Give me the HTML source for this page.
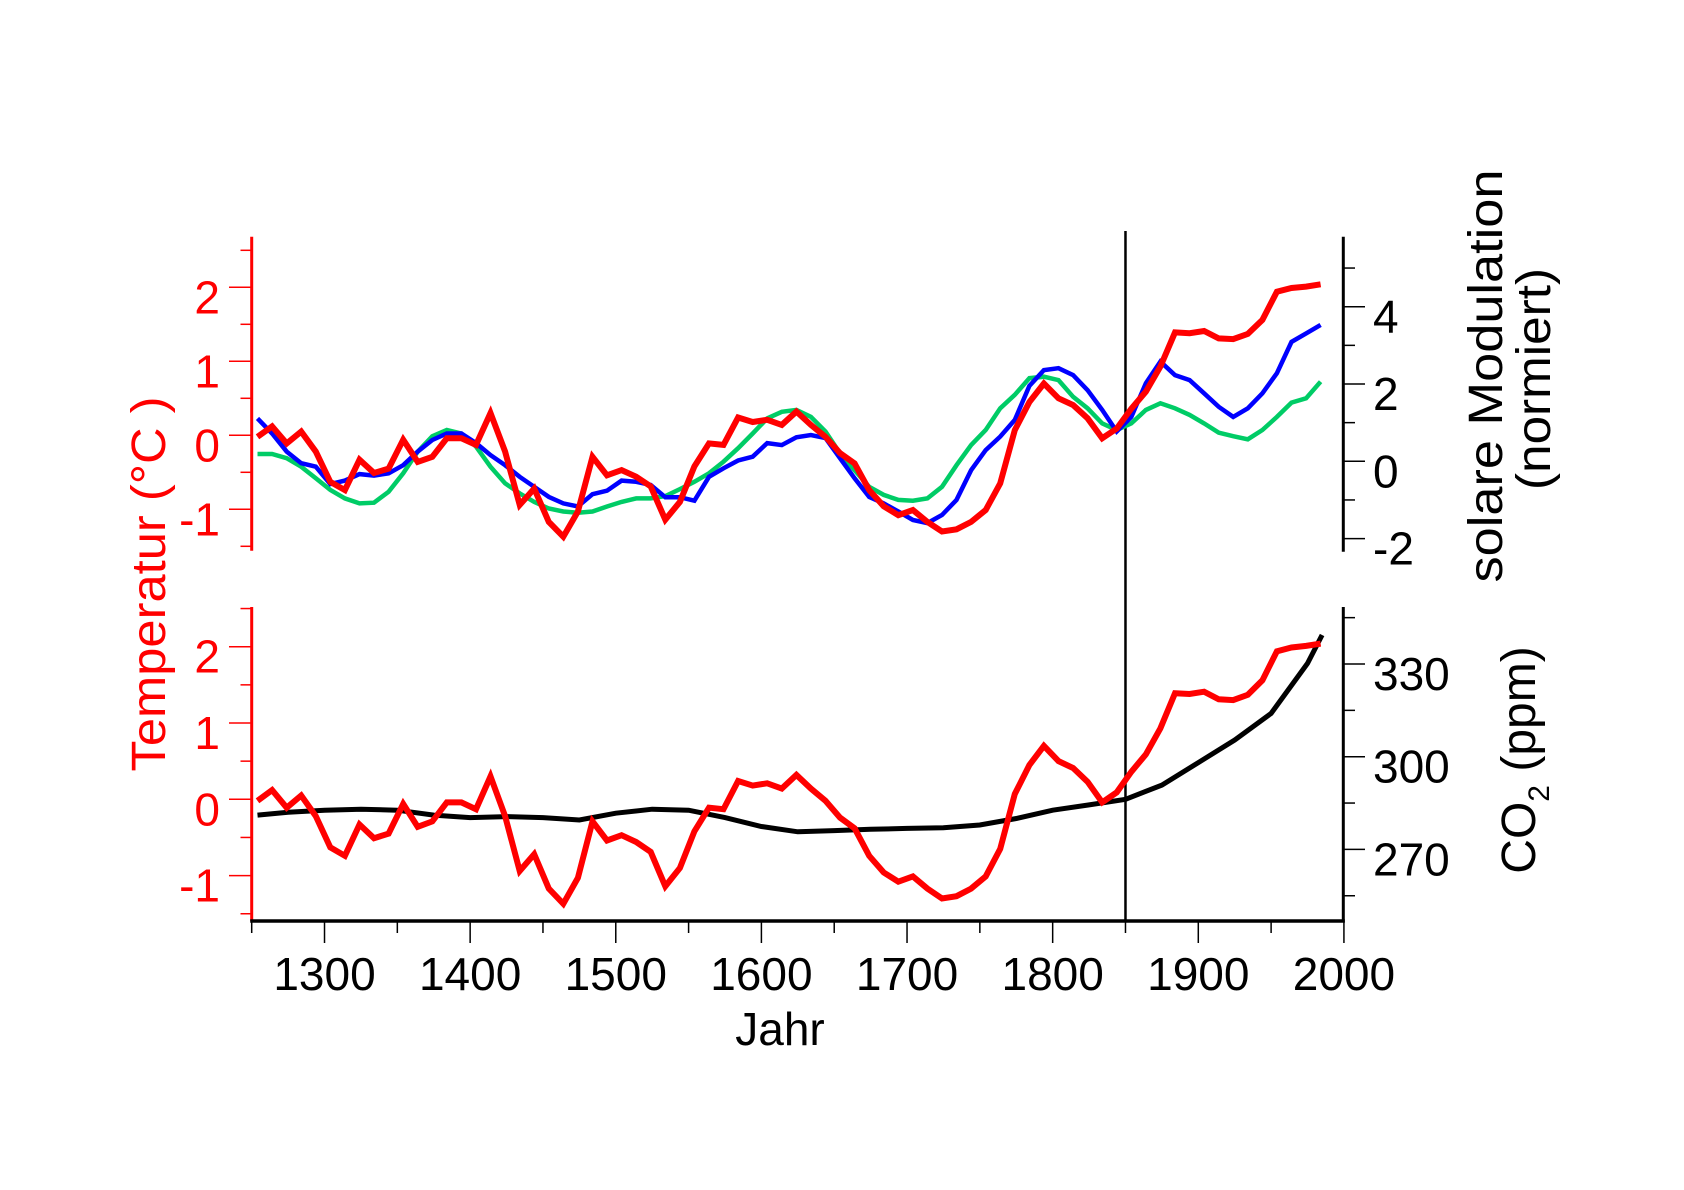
<!DOCTYPE html>
<html><head><meta charset="utf-8"><title>Temperatur, solare Modulation und CO2</title>
<style>
html,body{margin:0;padding:0;background:#fff;}
svg{display:block;}
text{font-family:"Liberation Sans","DejaVu Sans",sans-serif;}
</style></head>
<body>
<svg id="chart" width="1684" height="1190" viewBox="0 0 1684 1190" xmlns="http://www.w3.org/2000/svg">
<rect x="0" y="0" width="1684" height="1190" fill="#fff"/>
<g id="axes"></g>
<g id="series"></g>
<text transform="translate(165,584) rotate(-90)" text-anchor="middle" font-size="48" fill="#ff0000" textLength="375" lengthAdjust="spacingAndGlyphs">Temperatur (°C )</text>
<text transform="translate(1502,376) rotate(-90)" text-anchor="middle" font-size="48" fill="#000" textLength="413" lengthAdjust="spacingAndGlyphs">solare Modulation</text>
<text transform="translate(1550,379) rotate(-90)" text-anchor="middle" font-size="48" fill="#000" textLength="222" lengthAdjust="spacingAndGlyphs">(normiert)</text>
<text transform="translate(1535,760) rotate(-90)" text-anchor="middle" font-size="48" fill="#000">CO<tspan font-size="30" dy="14">2</tspan><tspan dy="-14">  (ppm)</tspan></text>
<text x="780" y="1045" text-anchor="middle" font-size="46" fill="#000">Jahr</text>
</svg>
<script>
// ---- data ----
const years = [1254,1264,1274,1284,1294,1304,1314,1324,1334,1344,1354,1364,1374,1384,1394,1404,1414,1424,1434,1444,1454,1464,1474,1484,1494,1504,1514,1524,1534,1544,1554,1564,1574,1584,1594,1604,1614,1624,1634,1644,1654,1664,1674,1684,1694,1704,1714,1724,1734,1744,1754,1764,1774,1784,1794,1804,1814,1824,1834,1844,1854,1864,1874,1884,1894,1904,1914,1924,1934,1944,1954,1964,1974,1984];
const temperature = [-0.02,0.12,-0.11,0.05,-0.22,-0.63,-0.74,-0.33,-0.51,-0.45,-0.06,-0.36,-0.29,-0.04,-0.04,-0.13,0.30,-0.22,-0.94,-0.72,-1.17,-1.37,-1.03,-0.29,-0.54,-0.47,-0.56,-0.69,-1.14,-0.90,-0.42,-0.11,-0.13,0.24,0.18,0.21,0.14,0.32,0.14,-0.02,-0.24,-0.38,-0.74,-0.96,-1.08,-1.01,-1.17,-1.30,-1.27,-1.17,-1.01,-0.65,0.07,0.45,0.70,0.50,0.41,0.23,-0.04,0.09,0.36,0.59,0.93,1.39,1.38,1.41,1.31,1.30,1.37,1.56,1.94,1.99,2.01,2.04];
const solarBlue = [1.11,0.72,0.25,-0.05,-0.14,-0.59,-0.50,-0.33,-0.37,-0.31,-0.10,0.25,0.55,0.72,0.72,0.47,0.16,-0.10,-0.40,-0.66,-0.92,-1.09,-1.17,-0.85,-0.76,-0.50,-0.53,-0.61,-0.93,-0.93,-1.02,-0.40,-0.18,0.02,0.12,0.47,0.42,0.62,0.68,0.60,0.08,-0.44,-0.92,-1.09,-1.30,-1.52,-1.60,-1.39,-1.00,-0.23,0.29,0.64,1.07,1.95,2.36,2.41,2.23,1.84,1.33,0.77,1.15,2.02,2.58,2.23,2.10,1.76,1.41,1.15,1.37,1.76,2.28,3.09,3.31,3.53];
const solarGreen = [0.19,0.19,0.08,-0.14,-0.44,-0.74,-0.96,-1.09,-1.07,-0.79,-0.31,0.25,0.65,0.81,0.72,0.38,-0.14,-0.57,-0.83,-1.05,-1.22,-1.30,-1.33,-1.30,-1.17,-1.05,-0.96,-0.96,-0.90,-0.72,-0.53,-0.31,-0.01,0.34,0.72,1.11,1.28,1.33,1.15,0.77,0.21,-0.23,-0.66,-0.87,-1.00,-1.02,-0.96,-0.66,-0.10,0.42,0.81,1.37,1.72,2.15,2.19,2.10,1.67,1.37,0.98,0.81,0.98,1.33,1.50,1.37,1.20,0.98,0.74,0.65,0.57,0.81,1.15,1.52,1.63,2.06];
const co2Years = [1254,1275,1300,1325,1350,1375,1400,1425,1450,1475,1500,1525,1550,1575,1600,1625,1650,1675,1700,1725,1750,1775,1800,1825,1850,1875,1900,1925,1950,1975,1985];
const co2 = [281.1,282.0,282.7,283.0,282.7,281.1,280.3,280.6,280.3,279.5,281.7,283.0,282.7,280.3,277.4,275.7,276.1,276.5,276.8,277.0,277.9,280.0,282.7,284.4,286.2,290.8,298.1,305.4,314.0,330.2,339.4];
const xTickYears = [1300,1400,1500,1600,1700,1800,1900,2000];
const tempTickLabels = [-1,0,1,2];
const solarTickLabels = [-2,0,2,4];
const co2TickLabels = [270,300,330];
const markerYear = 1850;

// ---- scales ----
const x = y => 251.7 + (y - 1250) * 1.4563;
const tTop = v => 435.3 - v * 74;
const sTop = v => 461.3 - v * 38.65;
const tBot = v => 799.3 - v * 76.3;
const cBot = v => 756.7 - (v - 300) * 3.09;

const NS = 'http://www.w3.org/2000/svg';
const axes = document.getElementById('axes');
const series = document.getElementById('series');
function mk(tag, attrs, parent) {
  const e = document.createElementNS(NS, tag);
  for (const k in attrs) e.setAttribute(k, attrs[k]);
  parent.appendChild(e);
  return e;
}
function line(x1,y1,x2,y2,stroke,w,name){
  const l = mk('line',{x1,y1,x2,y2,stroke,'stroke-width':w},axes);
  
  
  return l;
}
function label(tx,ty,str,anchor,fill,name){
  const t = mk('text',{x:tx,y:ty,'text-anchor':anchor,'font-size':46,fill},axes);
  t.textContent = str;
  
  
  return t;
}

// ---- top panel axes ----
line(251.7,236.7,251.7,550.7,'#ff0000',3,'top-left-axis');
for (let v=-1.5; v<=2.51; v+=0.5){
  const major = Math.abs(v-Math.round(v))<1e-6;
  line(major?229:240.5, tTop(v), 251.7, tTop(v), '#ff0000', 1.5, 'top-temp-tick');
}
tempTickLabels.forEach(v=>label(220, tTop(v)+26, String(v), 'end', '#ff0000', 'top-temp-tick-label'));
line(1343.3,236.7,1343.3,551.7,'#000',3,'top-right-axis');
for (let v=-2; v<=5; v++){
  const major = v%2===0;
  line(1343.3, sTop(v), major?1365:1355, sTop(v), '#000', 1.5, 'solar-tick');
}
solarTickLabels.forEach(v=>label(1373, sTop(v)+26, String(v), 'start', '#000', 'solar-tick-label'));

// ---- bottom panel axes ----
line(251.7,607,251.7,921,'#ff0000',3,'bottom-left-axis');
for (let v=-1.5; v<=2.51; v+=0.5){
  const major = Math.abs(v-Math.round(v))<1e-6;
  line(major?229:240.5, tBot(v), 251.7, tBot(v), '#ff0000', 1.5, 'bottom-temp-tick');
}
tempTickLabels.forEach(v=>label(220, tBot(v)+26, String(v), 'end', '#ff0000', 'bottom-temp-tick-label'));
line(1343.3,607,1343.3,922.5,'#000',3,'bottom-right-axis');
for (let v=255; v<=345; v+=15){
  const major = v%30===0;
  line(1343.3, cBot(v), major?1365:1355, cBot(v), '#000', 1.5, 'co2-tick');
}
co2TickLabels.forEach(v=>label(1373, cBot(v)+26, String(v), 'start', '#000', 'co2-tick-label'));
line(250.2,921,1344.8,921,'#000',3.5,'x-axis');
for (let yr=1250; yr<=2000; yr+=50){
  const major = yr%100===0;
  line(x(yr), 921, x(yr), major?943:933, '#000', 1.5, 'x-tick');
}
xTickYears.forEach(yr=>label(x(yr), 990, String(yr), 'middle', '#000', 'x-tick-label'));

// marker line at 1850
line(x(markerYear), 231, x(markerYear), 921, '#000', 2.5, 'marker-line-1850');

// ---- series ----
function path(xs, ys, fx, fy, stroke, w, name){
  let d = '';
  xs.forEach((xv,i)=>{ d += (i?'L':'M') + fx(xv).toFixed(1) + ',' + fy(ys[i]).toFixed(1); });
  const p = mk('path',{d,fill:'none',stroke,'stroke-width':w,'stroke-linejoin':'miter','stroke-miterlimit':3},series);
  
  
  return p;
}
path(years, solarGreen, x, sTop, '#00cc66', 4.5, 'solar-green-line');
path(years, solarBlue, x, sTop, '#0000ff', 4.5, 'solar-blue-line');
path(years, temperature, x, tTop, '#ff0000', 6, 'temperature-line-top');
path(co2Years, co2, x, cBot, '#000', 5, 'co2-line');
path(years, temperature, x, tBot, '#ff0000', 6, 'temperature-line-bottom');
</script>
</body></html>
